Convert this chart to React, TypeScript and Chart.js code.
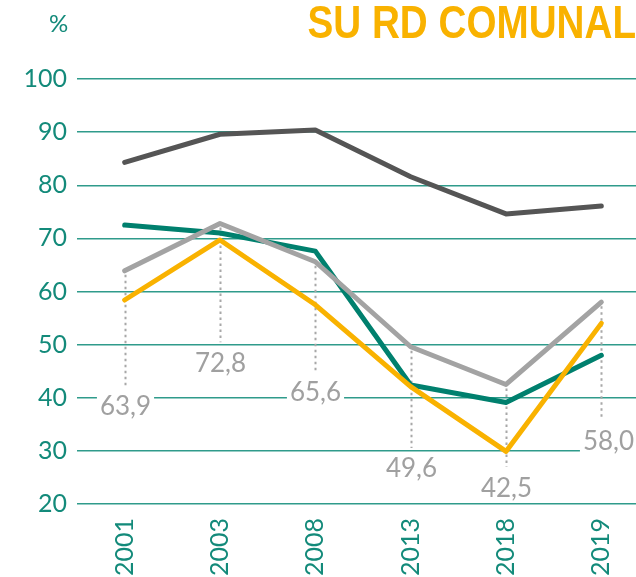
import React, { useEffect, useRef } from 'react';
import { Chart, registerables } from 'chart.js';

Chart.register(...registerables);

// ---- data ----
const years = ['2001', '2003', '2008', '2013', '2018', '2019'];
const seriesDark = [84.3, 89.6, 90.4, 81.6, 74.6, 76.1];
const seriesTeal = [72.5, 71.0, 67.6, 42.4, 39.1, 48.0];
const seriesGray = [63.9, 72.8, 65.6, 49.6, 42.5, 58.0];
const seriesOrange = [58.4, 69.7, 57.5, 42.1, 29.9, 54.0];
const yMin = 20;
const yMax = 100;
const yStep = 10;

// ---- styling / annotation layout (value units on the y scale) ----
const labelLevels = [38.6, 46.7, 41.1, 26.8, 23.2, 32.0];
const labelShiftX = [0, 0, 0, 0, 0, 7];

const TEAL = '#00806E';
const TEAL_TEXT = '#138A7A';
const GRID = '#2F9B8B';
const ORANGE = '#F9B200';
const DARK = '#555555';
const GRAY = '#A3A3A3';
const LABEL_GRAY = '#A0A0A0';

const annotatePlugin = {
  id: 'grayAnnotations',
  beforeDatasetsDraw(chart: any) {
    const ctx = chart.ctx as CanvasRenderingContext2D;
    const xs = chart.scales.x;
    const ys = chart.scales.y;
    ctx.save();
    ctx.font = '26px Lato';
    ctx.textAlign = 'center';
    ctx.textBaseline = 'alphabetic';
    seriesGray.forEach((v, i) => {
      const px = Math.round(xs.getPixelForValue(i)) + 0.5;
      const py = ys.getPixelForValue(v);
      const ly = ys.getPixelForValue(labelLevels[i]);
      ctx.setLineDash([2.5, 3.5]);
      ctx.lineWidth = 2;
      ctx.strokeStyle = '#A8A8A8';
      ctx.beginPath();
      ctx.moveTo(px, py + 4);
      ctx.lineTo(px, ly - 20);
      ctx.stroke();
      ctx.setLineDash([]);
      const text = v.toFixed(1).replace('.', ',');
      const w = ctx.measureText(text).width;
      const lx = px + labelShiftX[i];
      ctx.fillStyle = '#ffffff';
      ctx.fillRect(lx - w / 2 - 3, ly - 13, w + 6, 28);
      ctx.fillStyle = LABEL_GRAY;
      ctx.fillText(text, lx, ly + 9.5);
    });
    ctx.restore();
  },
};

export default function App() {
  const ref = useRef<HTMLCanvasElement>(null);

  useEffect(() => {
    if (!ref.current) return;
    const common = {
      fill: false,
      pointRadius: 0,
      pointHoverRadius: 0,
      borderWidth: 5,
      borderCapStyle: 'round' as const,
      borderJoinStyle: 'round' as const,
      tension: 0,
    };
    const chart = new Chart(ref.current, {
      type: 'line',
      data: {
        labels: years,
        datasets: [
          { ...common, label: 'orange', data: seriesOrange, borderColor: ORANGE, order: 0 },
          { ...common, label: 'gray', data: seriesGray, borderColor: GRAY, order: 1 },
          { ...common, label: 'teal', data: seriesTeal, borderColor: TEAL, order: 2 },
          { ...common, label: 'dark', data: seriesDark, borderColor: DARK, order: 3 },
        ],
      },
      options: {
        responsive: false,
        animation: false,
        layout: { padding: { top: 79, left: 0, right: 0, bottom: 0 } },
        plugins: {
          legend: { display: false },
          tooltip: { enabled: false },
          title: { display: false },
        },
        scales: {
          x: {
            type: 'category',
            offset: true,
            grid: { display: false, drawTicks: false },
            border: { display: false },
            ticks: {
              color: TEAL_TEXT,
              font: { family: 'Lato', size: 25 },
              minRotation: 90,
              maxRotation: 90,
              autoSkip: false,
              padding: 14,
            },
            afterFit: (s: any) => {
              s.height = 73;
            },
          },
          y: {
            min: yMin,
            max: yMax,
            ticks: {
              stepSize: yStep,
              color: TEAL_TEXT,
              font: { family: 'Lato', size: 25 },
              padding: 10,
            },
            grid: { color: GRID, lineWidth: 1.5, drawTicks: false },
            border: { display: false },
            afterFit: (s: any) => {
              s.width = 77;
            },
          },
        },
      },
      plugins: [annotatePlugin],
    });
    return () => chart.destroy();
  }, []);

  return (
    <div
      style={{
        position: 'absolute',
        left: 0,
        top: 0,
        width: 636,
        height: 577,
        overflow: 'hidden',
        background: '#ffffff',
      }}
    >
      <canvas
        ref={ref}
        width={649}
        height={577}
        style={{ display: 'block', width: 649, height: 577 }}
      />
      <div
        style={{
          position: 'absolute',
          left: 49,
          top: 11,
          fontFamily: 'Lato',
          fontSize: 24,
          lineHeight: '24px',
          color: TEAL_TEXT,
        }}
      >
        %
      </div>
      <div
        style={{
          position: 'absolute',
          right: 0,
          top: -1,
          fontFamily: '"Liberation Sans Narrow", sans-serif',
          fontWeight: 'bold',
          fontSize: 46,
          lineHeight: '46px',
          color: ORANGE,
          whiteSpace: 'nowrap',
          transform: 'scaleX(0.84)',
          transformOrigin: 'right top',
        }}
      >
        SU RD COMUNAL
      </div>
    </div>
  );
}
